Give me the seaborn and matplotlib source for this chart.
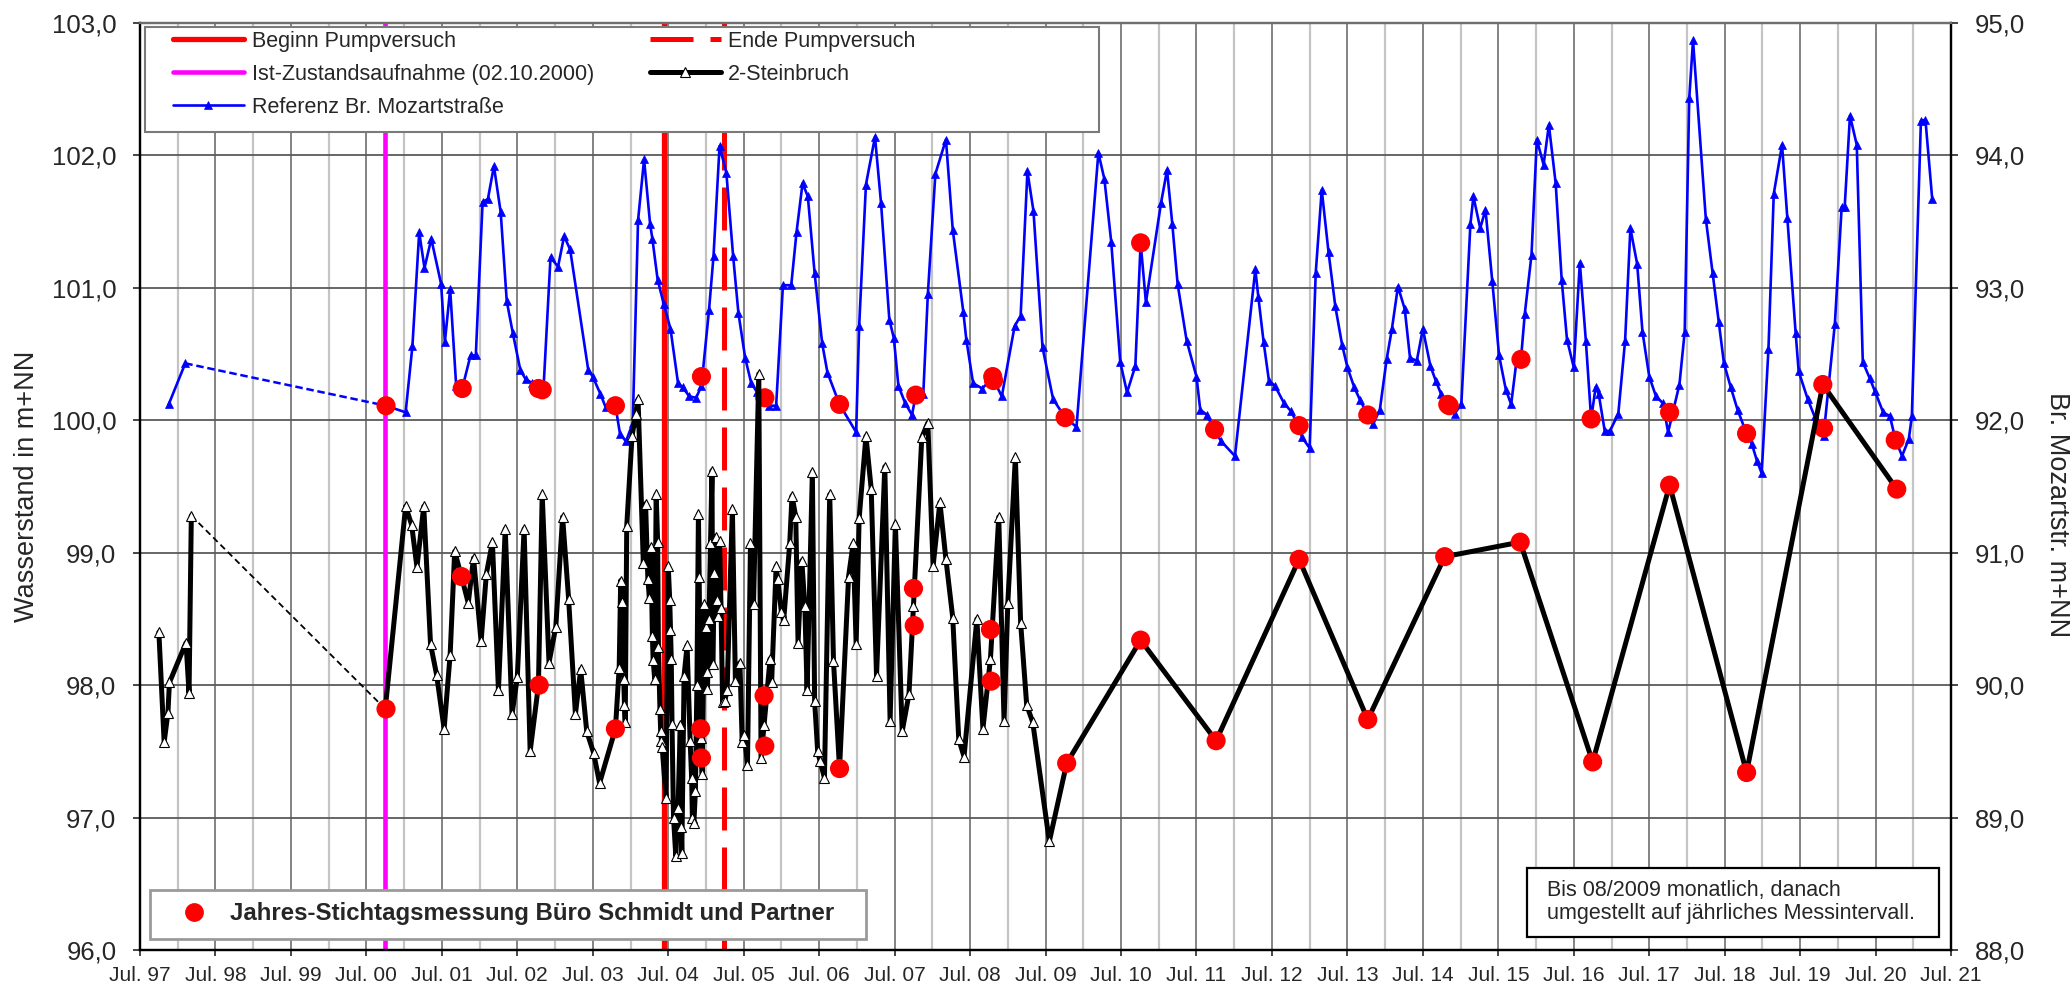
import matplotlib
matplotlib.use("Agg")
import matplotlib.pyplot as plt
from matplotlib.lines import Line2D
from matplotlib.patches import Rectangle
from matplotlib.ticker import FixedLocator, FuncFormatter
import seaborn as sns

# --- Daten (Zeit als Dezimaljahr) ---
# 2-Steinbruch, Teil 1 (1997/98) und Teil 2 (ab 10/2000, ab 08/2009 jaehrlich)
stein_jahr_1 = [1997.75, 1997.82, 1997.87, 1997.89, 1998.11, 1998.15, 1998.18]
stein_wert_1 = [98.40, 97.57, 97.79, 98.02, 98.32, 97.94, 99.28]

stein_jahr_2 = [
    2000.75, 2001.02, 2001.10, 2001.17, 2001.26, 2001.35, 2001.43, 2001.53, 2001.61, 2001.67,
    2001.76, 2001.85, 2001.92, 2002.02, 2002.09, 2002.17, 2002.25, 2002.34, 2002.43, 2002.50,
    2002.59, 2002.67, 2002.78, 2002.83, 2002.92, 2003.01, 2003.10, 2003.18, 2003.27, 2003.34,
    2003.42, 2003.51, 2003.59, 2003.80, 2003.85, 2003.87, 2003.89, 2003.91, 2003.92, 2003.93,
    2003.95, 2004.02, 2004.07, 2004.10, 2004.17, 2004.20, 2004.23, 2004.25, 2004.27, 2004.29,
    2004.30, 2004.32, 2004.34, 2004.36, 2004.37, 2004.39, 2004.40, 2004.41, 2004.42, 2004.47,
    2004.50, 2004.52, 2004.53, 2004.54, 2004.55, 2004.57, 2004.60, 2004.63, 2004.66, 2004.67,
    2004.68, 2004.71, 2004.75, 2004.79, 2004.81, 2004.82, 2004.84, 2004.86, 2004.88, 2004.90,
    2004.91, 2004.93, 2004.95, 2004.98, 2005.00, 2005.01, 2005.02, 2005.04, 2005.06, 2005.08,
    2005.09, 2005.11, 2005.13, 2005.14, 2005.16, 2005.18, 2005.20, 2005.22, 2005.25, 2005.28,
    2005.35, 2005.39, 2005.45, 2005.48, 2005.51, 2005.55, 2005.59, 2005.63, 2005.70, 2005.73,
    2005.77, 2005.85, 2005.87, 2005.93, 2005.95, 2006.00, 2006.03, 2006.11, 2006.14, 2006.19,
    2006.22, 2006.27, 2006.31, 2006.34, 2006.41, 2006.44, 2006.48, 2006.51, 2006.57, 2006.64,
    2006.69, 2006.77, 2006.89, 2006.95, 2006.99, 2007.03, 2007.12, 2007.19, 2007.26, 2007.37,
    2007.44, 2007.51, 2007.60, 2007.69, 2007.75, 2007.86, 2007.94, 2008.01, 2008.10, 2008.18,
    2008.27, 2008.35, 2008.42, 2008.59, 2008.67, 2008.77, 2008.88, 2008.95, 2009.00, 2009.10,
    2009.17, 2009.25, 2009.33, 2009.55, 2009.78, 2010.76, 2011.76, 2012.86, 2013.77, 2014.79,
    2015.79, 2016.75, 2017.77, 2018.79, 2019.80, 2020.78,
]
stein_wert_2 = [
    97.82, 99.35, 99.21, 98.89, 99.35, 98.31, 98.08, 97.67, 98.23, 99.01,
    98.82, 98.62, 98.96, 98.33, 98.84, 99.08, 97.96, 99.18, 97.78, 98.06,
    99.18, 97.50, 98.00, 99.44, 98.17, 98.44, 99.27, 98.65, 97.78, 98.12,
    97.65, 97.49, 97.26, 97.67, 98.13, 98.79, 98.63, 98.05, 97.85, 97.72,
    99.20, 99.88, 100.05, 100.16, 98.92, 99.37, 98.80, 98.66, 99.04, 98.37,
    98.19, 98.05, 99.44, 99.08, 98.29, 97.82, 97.65, 97.58, 97.53, 97.15,
    98.90, 98.64, 98.42, 98.20, 97.71, 97.00, 96.71, 97.07, 97.70, 96.93,
    96.73, 98.07, 98.30, 97.58, 97.30, 97.00, 96.96, 97.20, 98.00, 99.29,
    98.82, 97.60, 97.33, 98.61, 98.44, 98.10, 97.97, 98.50, 99.07, 99.62,
    98.16, 98.85, 99.12, 98.64, 98.52, 99.09, 98.58, 97.87, 97.88, 97.96,
    99.33, 98.03, 98.17, 97.57, 97.62, 97.40, 99.07, 98.61, 100.35, 97.45,
    97.70, 98.20, 98.02, 98.90, 98.80, 98.55, 98.49, 99.07, 99.43, 99.27,
    98.32, 98.94, 98.60, 97.96, 99.61, 97.88, 97.50, 97.43, 97.30, 99.44,
    98.18, 97.37, 98.82, 99.07, 98.31, 99.26, 99.88, 99.48, 98.07, 99.65,
    97.73, 99.22, 97.65, 97.93, 98.60, 99.87, 99.98, 98.90, 99.38, 98.95,
    98.51, 97.59, 97.46, 98.50, 97.67, 98.20, 99.27, 97.73, 98.62, 99.72,
    98.47, 97.85, 97.72, 96.82, 97.41, 98.34, 97.58, 98.95, 97.74, 98.97,
    99.08, 97.42, 99.51, 97.34, 100.27, 99.48,
]

# Referenz Br. Mozartstrasse (rechte Achse)
ref_jahr_1 = [1997.88, 1998.10]
ref_wert_1 = [92.12, 92.43]

ref_jahr_2 = [
    2000.76, 2001.02, 2001.11, 2001.20, 2001.27, 2001.36, 2001.49, 2001.54, 2001.61, 2001.69,
    2001.77, 2001.88, 2001.95, 2002.04, 2002.11, 2002.19, 2002.28, 2002.36, 2002.44, 2002.54,
    2002.61, 2002.70, 2002.78, 2002.83, 2002.85, 2002.94, 2003.04, 2003.12, 2003.20, 2003.44,
    2003.50, 2003.60, 2003.67, 2003.80, 2003.86, 2003.94, 2004.03, 2004.10, 2004.18, 2004.26,
    2004.29, 2004.36, 2004.44, 2004.53, 2004.63, 2004.69, 2004.78, 2004.87, 2004.94, 2005.04,
    2005.10, 2005.18, 2005.27, 2005.36, 2005.43, 2005.52, 2005.60, 2005.68, 2005.78, 2005.84,
    2005.93, 2006.02, 2006.13, 2006.20, 2006.28, 2006.35, 2006.44, 2006.54, 2006.61, 2006.77,
    2006.99, 2007.03, 2007.12, 2007.24, 2007.32, 2007.43, 2007.49, 2007.55, 2007.64, 2007.73,
    2007.78, 2007.88, 2007.94, 2008.04, 2008.18, 2008.27, 2008.41, 2008.45, 2008.54, 2008.66,
    2008.80, 2008.92, 2009.09, 2009.17, 2009.26, 2009.34, 2009.46, 2009.60, 2009.76, 2009.91,
    2010.20, 2010.28, 2010.37, 2010.49, 2010.58, 2010.69, 2010.76, 2010.83, 2011.03, 2011.11,
    2011.18, 2011.25, 2011.37, 2011.50, 2011.55, 2011.64, 2011.74, 2011.83, 2012.01, 2012.28,
    2012.32, 2012.39, 2012.46, 2012.54, 2012.66, 2012.75, 2012.86, 2012.90, 2013.00, 2013.08,
    2013.16, 2013.25, 2013.34, 2013.43, 2013.50, 2013.59, 2013.67, 2013.77, 2013.84, 2013.93,
    2014.02, 2014.09, 2014.17, 2014.26, 2014.33, 2014.42, 2014.50, 2014.60, 2014.67, 2014.74,
    2014.83, 2014.92, 2015.01, 2015.13, 2015.17, 2015.26, 2015.33, 2015.42, 2015.51, 2015.60,
    2015.67, 2015.75, 2015.80, 2015.85, 2015.94, 2016.01, 2016.10, 2016.17, 2016.26, 2016.34,
    2016.41, 2016.50, 2016.58, 2016.66, 2016.73, 2016.79, 2016.83, 2016.91, 2016.98, 2017.09,
    2017.18, 2017.25, 2017.34, 2017.41, 2017.50, 2017.59, 2017.68, 2017.75, 2017.90, 2017.97,
    2018.03, 2018.08, 2018.25, 2018.34, 2018.42, 2018.49, 2018.58, 2018.67, 2018.79, 2018.86,
    2018.93, 2018.99, 2019.08, 2019.15, 2019.26, 2019.33, 2019.44, 2019.48, 2019.60, 2019.69,
    2019.81, 2019.96, 2020.05, 2020.09, 2020.16, 2020.25, 2020.33, 2020.42, 2020.49, 2020.60,
    2020.69, 2020.76, 2020.85, 2020.94, 2020.98, 2021.10, 2021.16, 2021.25,
]
ref_wert_2 = [
    92.11, 92.06, 92.56, 93.42, 93.15, 93.37, 93.03, 92.59, 92.99, 92.26,
    92.24, 92.49, 92.49, 93.65, 93.67, 93.92, 93.57, 92.90, 92.66, 92.38,
    92.31, 92.28, 92.23, 92.23, 92.27, 93.23, 93.16, 93.39, 93.29, 92.38,
    92.33, 92.20, 92.10, 92.11, 91.90, 91.84, 91.98, 93.51, 93.97, 93.48,
    93.37, 93.06, 92.88, 92.69, 92.28, 92.25, 92.18, 92.17, 92.26, 92.83,
    93.24, 94.07, 93.87, 93.24, 92.81, 92.47, 92.28, 92.21, 92.17, 92.11,
    92.11, 93.02, 93.02, 93.42, 93.79, 93.69, 93.11, 92.58, 92.36, 92.12,
    91.91, 92.71, 93.78, 94.14, 93.64, 92.76, 92.62, 92.26, 92.13, 92.04,
    92.19, 92.20, 92.95, 93.86, 94.12, 93.44, 92.82, 92.61, 92.28, 92.24,
    92.32, 92.18, 92.71, 92.79, 93.88, 93.58, 92.55, 92.16, 92.02, 91.95,
    94.02, 93.82, 93.35, 92.44, 92.21, 92.41, 93.34, 92.89, 93.64, 93.89,
    93.48, 93.03, 92.60, 92.33, 92.08, 92.04, 91.92, 91.84, 91.73, 93.14,
    92.93, 92.59, 92.30, 92.26, 92.13, 92.07, 91.95, 91.87, 91.79, 93.11,
    93.74, 93.27, 92.86, 92.57, 92.40, 92.25, 92.15, 92.04, 91.97, 92.08,
    92.46, 92.69, 93.01, 92.84, 92.47, 92.45, 92.69, 92.41, 92.30, 92.20,
    92.12, 92.05, 92.12, 93.48, 93.69, 93.45, 93.59, 93.05, 92.49, 92.23,
    92.12, 92.49, 92.46, 92.80, 93.25, 94.12, 93.93, 94.23, 93.79, 93.06,
    92.61, 92.40, 93.19, 92.60, 92.01, 92.25, 92.20, 91.92, 91.92, 92.05,
    92.60, 93.45, 93.18, 92.67, 92.33, 92.18, 92.13, 91.91, 92.27, 92.67,
    94.43, 94.87, 93.52, 93.11, 92.74, 92.43, 92.25, 92.08, 91.90, 91.82,
    91.69, 91.60, 92.54, 93.71, 94.08, 93.53, 92.66, 92.37, 92.16, 92.03,
    91.88, 92.73, 93.61, 93.61, 94.30, 94.08, 92.44, 92.32, 92.22, 92.06,
    92.03, 91.86, 91.73, 91.86, 92.03, 94.26, 94.27, 93.67,
]

# Jahres-Stichtagsmessung Buero Schmidt und Partner
stich_ref_jahr = [2000.76, 2001.77, 2002.78, 2002.83, 2003.80, 2004.94, 2005.78, 2006.77, 2007.78,
                  2008.80, 2008.81, 2009.76, 2010.76, 2011.74, 2012.86, 2013.77, 2014.83, 2014.85,
                  2015.80, 2016.73, 2017.77, 2018.79, 2019.81, 2020.76]
stich_ref_wert = [92.11, 92.24, 92.24, 92.23, 92.11, 92.33, 92.17, 92.12, 92.19,
                  92.33, 92.30, 92.02, 93.34, 91.93, 91.96, 92.04, 92.12, 92.11,
                  92.46, 92.01, 92.06, 91.90, 91.94, 91.85]
stich_stein_jahr = [2000.76, 2001.76, 2002.79, 2003.80, 2004.93, 2004.94, 2005.77, 2005.78, 2006.77,
                    2007.75, 2007.76, 2008.77, 2008.78, 2009.78, 2010.76, 2011.76, 2012.86, 2013.77,
                    2014.79, 2015.79, 2016.75, 2017.77, 2018.79, 2019.80, 2020.78]
stich_stein_wert = [97.82, 98.82, 98.00, 97.67, 97.67, 97.45, 97.92, 97.54, 97.37,
                    98.73, 98.45, 98.42, 98.03, 97.41, 98.34, 97.58, 98.95, 97.74,
                    98.97, 99.08, 97.42, 99.51, 97.34, 100.27, 99.48]

# Ereignisse
ist_zustand = 2000.75      # 02.10.2000
beginn_pv = 2004.45
ende_pv = 2005.24

# Achsen
jahre = list(range(1997, 2022))
xtick_labels = ["Jul. 97", "Jul. 98", "Jul. 99", "Jul. 00", "Jul. 01", "Jul. 02", "Jul. 03",
                "Jul. 04", "Jul. 05", "Jul. 06", "Jul. 07", "Jul. 08", "Jul. 09", "Jul. 10",
                "Jul. 11", "Jul. 12", "Jul. 13", "Jul. 14", "Jul. 15", "Jul. 16", "Jul. 17",
                "Jul. 18", "Jul. 19", "Jul. 20", "Jul. 21"]


sns.set_style("white")
plt.rcParams['font.family'] = ['Liberation Sans', 'DejaVu Sans']

fig = plt.figure(figsize=(20.71, 9.88), dpi=100)
ax = fig.add_axes([0.0676, 0.0385, 0.8745, 0.9382])
ax2 = ax.twinx()
# linke Achse (Steinbruch) oben, rechte Achse (Referenz + Gitter) darunter
ax.set_zorder(2)
ax2.set_zorder(1)
ax.patch.set_visible(False)
ax2.patch.set_visible(True)
ax2.patch.set_facecolor('white')

ax.set_xlim(1997.5, 2021.5)
ax.set_ylim(96, 103)
ax2.set_ylim(88, 95)

major_x = [j + 0.5 for j in jahre]
minor_x = [j + 1.0 for j in jahre[:-1]]
ax.xaxis.set_major_locator(FixedLocator(major_x))
ax.xaxis.set_minor_locator(FixedLocator(minor_x))
ax.set_xticklabels(xtick_labels)
ax.set_yticks(range(96, 104))
ax2.set_yticks(range(88, 96))
komma = FuncFormatter(lambda v, p: f"{v:.1f}".replace('.', ','))
ax.yaxis.set_major_formatter(komma)
ax2.yaxis.set_major_formatter(komma)

# Gitter auf der unteren Achse
ax2.xaxis.set_visible(True)
ax2.tick_params(axis='x', which='both', bottom=False, top=False, labelbottom=False, labeltop=False)
ax2.grid(True, axis='x', which='major', color='#6e6e6e', lw=1.2)
ax2.grid(True, axis='x', which='minor', color='#c4c4c4', lw=1.6)
ax2.grid(True, axis='y', which='major', color='#5a5a5a', lw=1.3)
ax.grid(False)

# Ereignislinien
h_ist = ax2.axvline(ist_zustand, color='#ff00ff', lw=3.3, zorder=1.5,
                    label='Ist-Zustandsaufnahme (02.10.2000)')
h_beginn = ax2.axvline(beginn_pv, color='red', lw=3.8, zorder=1.5, label='Beginn Pumpversuch')
h_ende = ax2.axvline(ende_pv, color='red', lw=3.6, zorder=1.5, dashes=(8.6, 3.4),
                     label='Ende Pumpversuch')

# Referenz Br. Mozartstrasse
ax2.plot([ref_jahr_1[-1], ref_jahr_2[0]], [ref_wert_1[-1], ref_wert_2[0]],
         color='blue', lw=1.8, dashes=(3, 1.5), zorder=2)
blau = dict(color='blue', lw=1.9, marker='^', markersize=5.5, markerfacecolor='blue',
            markeredgecolor='blue', markeredgewidth=0.5, estimator=None, sort=False,
            legend=False, zorder=3)
sns.lineplot(x=ref_jahr_1, y=ref_wert_1, ax=ax2, **blau)
sns.lineplot(x=ref_jahr_2, y=ref_wert_2, ax=ax2, **blau)
h_ref = ax2.lines[-1]
sns.scatterplot(x=stich_ref_jahr, y=stich_ref_wert, ax=ax2, color='red', s=190,
                edgecolor='none', zorder=4, legend=False)

# 2-Steinbruch
ax.plot([stein_jahr_1[-1], stein_jahr_2[0]], [stein_wert_1[-1], stein_wert_2[0]],
        color='black', lw=1.3, dashes=(3.5, 2.2), zorder=2)
schwarz = dict(color='black', lw=3.6, marker='^', markersize=7.5, markerfacecolor='white',
               markeredgecolor='black', markeredgewidth=0.8, estimator=None, sort=False,
               legend=False, zorder=3)
sns.lineplot(x=stein_jahr_1, y=stein_wert_1, ax=ax, **schwarz)
sns.lineplot(x=stein_jahr_2, y=stein_wert_2, ax=ax, **schwarz)
h_stein = ax.lines[-1]
sns.scatterplot(x=stich_stein_jahr, y=stich_stein_wert, ax=ax, color='red', s=190,
                edgecolor='none', zorder=4, legend=False)

# Achsenformat
for a in (ax, ax2):
    a.spines['left'].set_color('black')
    a.spines['bottom'].set_color('black')
    a.spines['right'].set_color('black')
    a.spines['top'].set_color('#6e6e6e')
    for s in a.spines.values():
        s.set_linewidth(1.6)
ax.tick_params(axis='y', which='major', direction='out', length=5, width=1.2,
               labelsize=18.5, pad=12, left=True, right=False)
ax2.tick_params(axis='y', which='major', direction='out', length=5, width=1.2,
                labelsize=18.5, pad=12, right=True, left=False)
ax.tick_params(axis='x', which='major', direction='out', length=4.5, width=1.2,
               labelsize=15, pad=7, bottom=True)
ax.tick_params(axis='x', which='minor', length=0)

ax.set_ylabel("Wasserstand in m+NN", fontsize=19.5, va='center')
ax.yaxis.set_label_coords(-0.0625, 0.5)
ax2.set_ylabel("Br. Mozartstr. m+NN", fontsize=19.5, rotation=270, va='center')
ax2.yaxis.set_label_coords(1.0585, 0.47)

# Legende oben links
ax.add_patch(Rectangle((0.003, 0.8824), 0.5265, 0.1133, transform=ax.transAxes,
                       fc='white', ec='#7a7a7a', lw=1.5, zorder=10, clip_on=False))
leg1 = ax.legend(handles=[h_beginn, h_ist, h_ref, h_ende, h_stein],
                 labels=['Beginn Pumpversuch', 'Ist-Zustandsaufnahme (02.10.2000)',
                         'Referenz Br. Mozartstraße', 'Ende Pumpversuch', '2-Steinbruch'],
                 ncol=2, loc='upper left', bbox_to_anchor=(0.0182, 0.9914), frameon=False,
                 fontsize=15.5, handlelength=3.3, handletextpad=0.35, columnspacing=2.6,
                 labelspacing=0.55, borderpad=0, borderaxespad=0, numpoints=1)
leg1.set_zorder(11)
ax.add_artist(leg1)

# Legende unten links
ax.add_patch(Rectangle((0.0055, 0.0119), 0.3954, 0.0528, transform=ax.transAxes,
                       fc='white', ec='#9a9a9a', lw=2.0, zorder=10, clip_on=False))
punkt = Line2D([], [], ls='', marker='o', color='red', markersize=12.5)
leg2 = ax.legend(handles=[punkt], labels=['Jahres-Stichtagsmessung Büro Schmidt und Partner'],
                 loc='center left', bbox_to_anchor=(0.0177, 0.0388), frameon=False,
                 handlelength=1.8, handletextpad=0.6, borderpad=0, borderaxespad=0,
                 prop={'weight': 'bold', 'size': 17.3})
leg2.set_zorder(11)

# Hinweis unten rechts
ax.add_patch(Rectangle((0.7659, 0.0140), 0.2275, 0.0744, transform=ax.transAxes,
                       fc='white', ec='black', lw=1.6, zorder=10, clip_on=False))
ax.text(0.7769, 0.0515, "Bis 08/2009 monatlich, danach\numgestellt auf jährliches Messintervall.",
        transform=ax.transAxes, fontsize=15.5, ha='left', va='center', linespacing=1.15,
        zorder=12)

fig.savefig("out.png", dpi=100)
